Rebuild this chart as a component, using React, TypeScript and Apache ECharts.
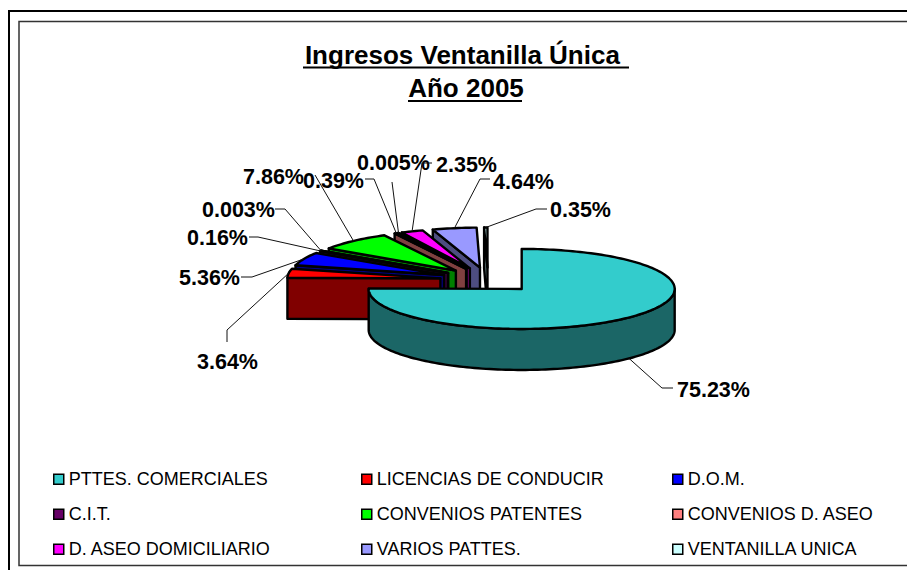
import React, { useEffect, useRef } from "react";
import * as echarts from "echarts";

// ---- data ----
const sliceNames = [
  "PTTES. COMERCIALES",
  "LICENCIAS DE CONDUCIR",
  "D.O.M.",
  "C.I.T.",
  "Sin leyenda 1",
  "CONVENIOS PATENTES",
  "CONVENIOS D. ASEO",
  "Sin leyenda 2",
  "D. ASEO DOMICILIARIO",
  "VARIOS PATTES.",
  "VENTANILLA UNICA",
];
const sliceValues = [75.23, 3.64, 5.36, 0.16, 0.003, 7.86, 0.39, 0.005, 2.35, 4.64, 0.35];
const legendColumns = [
  ["PTTES. COMERCIALES", "C.I.T.", "D. ASEO DOMICILIARIO"],
  ["LICENCIAS DE CONDUCIR", "CONVENIOS PATENTES", "VARIOS PATTES."],
  ["D.O.M.", "CONVENIOS D. ASEO", "VENTANILLA UNICA"],
];
const titleText = "Ingresos Ventanilla Única \nAño 2005";

// ---- styling & layout ----
const topColors = ["#33CCCC", "#FF0000", "#0000FF", "#660066", "#FFFF00", "#00FF00", "#FF8080", "#993366", "#FF00FF", "#9999FF", "#CCFFFF"];
const wallColors = ["#1B6666", "#800000", "#000080", "#330033", "#808000", "#008000", "#804040", "#4D1A33", "#800080", "#4D4D80", "#668080"];

const CX = 488;
const CY = 280;
const RX = 153;
const RY = 40;
const DEPTH = 41;
const EXPLODE = 48;

// label: text left, text middle y, then elbow and tail of its leader line
const labelLayout: number[][] = [
  [677, 390, 662, 388, 673, 388],
  [197, 362, 227, 330, 227, 342],
  [179, 278, 252, 277, 241, 277],
  [187, 238, 258, 237, 249, 237],
  [202, 210, 285, 209, 275, 209],
  [243, 177, 315, 175, 315, 175],
  [303, 181, 374, 179, 365, 179],
  [357, 163, 392, 182, 392, 182],
  [436, 165, 422, 163, 432, 163],
  [493, 182, 480, 179, 490, 179],
  [550, 210, 536, 209, 547, 209],
];

const total = sliceValues.reduce((a, b) => a + b, 0);
const rad = (d: number) => (d * Math.PI) / 180;
const bounds = sliceValues.map((_, i) => {
  const before = sliceValues.slice(0, i).reduce((a, b) => a + b, 0);
  return [(before / total) * 360, ((before + sliceValues[i]) / total) * 360];
});
const apexOf = (i: number) => {
  const m = rad((bounds[i][0] + bounds[i][1]) / 2);
  return [CX + EXPLODE * Math.sin(m), CY - (EXPLODE * RY * Math.cos(m)) / RX];
};
const rimOf = (i: number, deg: number) => {
  const a = apexOf(i);
  return [a[0] + RX * Math.sin(rad(deg)), a[1] - RY * Math.cos(rad(deg))];
};
const arcPoints = (i: number, from: number, to: number) => {
  const n = Math.max(1, Math.ceil((to - from) / 1.5));
  const pts: number[][] = [];
  for (let k = 0; k <= n; k++) pts.push(rimOf(i, from + ((to - from) * k) / n));
  return pts;
};
const down = (p: number[]) => [p[0], p[1] + DEPTH];

const poly = (points: number[][], fill: string) => ({
  type: "polygon",
  shape: { points },
  style: { fill, stroke: "#000", lineWidth: 2.4, lineJoin: "round" },
  silent: true,
});

const renderSlice = (i: number) => () => {
  const [a0, a1] = bounds[i];
  const apex = apexOf(i);
  const children: any[] = [];
  const wall = wallColors[i];
  if (Math.sin(rad(a0)) < 0) {
    const r = rimOf(i, a0);
    children.push(poly([apex, r, down(r), down(apex)], wall));
  }
  if (Math.sin(rad(a1)) > 0) {
    const r = rimOf(i, a1);
    children.push(poly([apex, r, down(r), down(apex)], wall));
  }
  const from = Math.max(a0, 90);
  const to = Math.min(a1, 270);
  if (to > from) {
    const arc = arcPoints(i, from, to);
    children.push(poly([...arc, ...arc.slice().reverse().map(down)], wall));
  }
  children.push(poly([apex, ...arcPoints(i, a0, a1)], topColors[i]));
  return { type: "group", children };
};

const renderLabel = (params: any) => {
  const i = params.dataIndex;
  const [tx, ty, ex, ey, qx, qy] = labelLayout[i];
  const mid = (bounds[i][0] + bounds[i][1]) / 2;
  const rim = rimOf(i, mid);
  const start = Math.cos(rad(mid)) < 0 ? down(rim) : rim;
  return {
    type: "group",
    children: [
      {
        type: "polyline",
        shape: { points: [start, [ex, ey], [qx, qy]] },
        style: { fill: "none", stroke: "#111", lineWidth: 1 },
        silent: true,
      },
      {
        type: "text",
        x: tx,
        y: ty,
        style: {
          text: `${sliceValues[i]}%`,
          fill: "#000",
          font: 'bold 21.5px "Liberation Sans", Arial, sans-serif',
          textAlign: "left",
          textVerticalAlign: "middle",
        },
        silent: true,
      },
    ],
  };
};

export default function App() {
  const ref = useRef<HTMLDivElement>(null);
  useEffect(() => {
    const chart = echarts.init(ref.current!, undefined, { renderer: "svg" });
    const order = sliceValues.map((_, i) => i).slice(1).reverse().concat([0]);
    chart.setOption({
      animation: false,
      backgroundColor: "#fff",
      title: {
        text: titleText,
        left: 461,
        top: 33,
        textAlign: "center",
        textStyle: {
          fontFamily: '"Liberation Sans", Arial, sans-serif',
          fontWeight: "bold",
          fontSize: 26,
          lineHeight: 33,
          color: "#000",
        },
      },
      legend: legendColumns.map((names, c) => ({
        data: names,
        orient: "vertical",
        left: [53, 361, 672][c],
        top: 469,
        padding: 0,
        itemGap: 14.5,
        itemWidth: 10,
        itemHeight: 10,
        icon: "rect",
        selectedMode: false,
        itemStyle: { borderColor: "#000", borderWidth: 1.5 },
        textStyle: {
          fontFamily: '"Liberation Sans", Arial, sans-serif',
          fontSize: 18,
          color: "#000",
          lineHeight: 20.5,
          height: 20.5,
        },
      })),
      series: [
        ...order.map((i) => ({
          type: "custom",
          name: sliceNames[i],
          coordinateSystem: "none",
          data: [[sliceValues[i]]],
          itemStyle: { color: topColors[i] },
          renderItem: renderSlice(i),
          silent: true,
        })),
        {
          type: "custom",
          name: "porcentajes",
          coordinateSystem: "none",
          data: sliceValues.map((v) => [v]),
          renderItem: renderLabel,
          silent: true,
        },
      ],
      graphic: [
        { type: "rect", shape: { x: 9, y: 11, width: 920, height: 580 }, style: { fill: "none", stroke: "#000", lineWidth: 2 }, z: -1 },
        { type: "rect", shape: { x: 19, y: 21.5, width: 920, height: 544 }, style: { fill: "none", stroke: "#333", lineWidth: 1.5 }, z: -1 },
        { type: "line", shape: { x1: 303, y1: 67.5, x2: 629, y2: 67.5 }, style: { stroke: "#000", lineWidth: 2 } },
        { type: "line", shape: { x1: 408, y1: 101, x2: 522, y2: 101 }, style: { stroke: "#000", lineWidth: 2 } },
      ],
    });
    return () => chart.dispose();
  }, []);
  return <div ref={ref} style={{ position: "absolute", left: 0, top: 0, width: 907, height: 570 }} />;
}
